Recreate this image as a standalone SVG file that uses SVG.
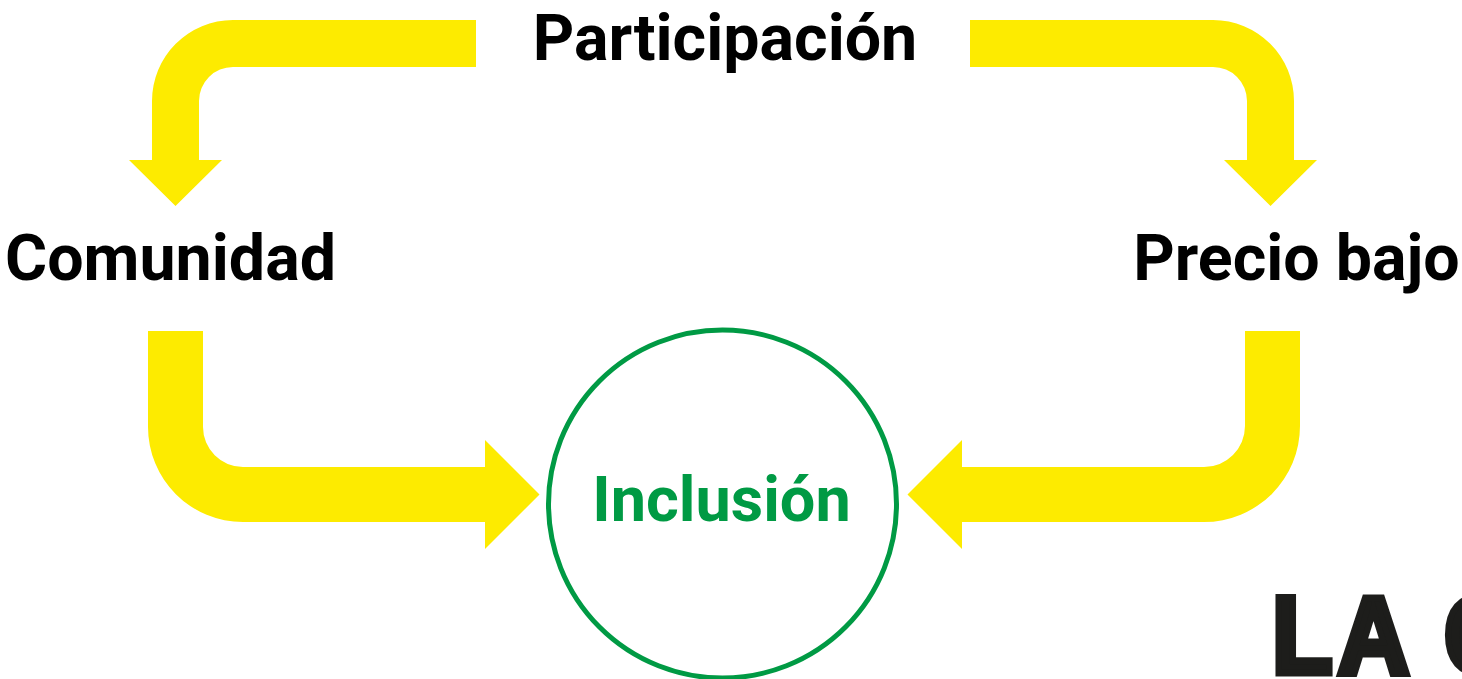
<svg xmlns="http://www.w3.org/2000/svg" width="1462" height="679" viewBox="0 0 1462 679">
<style>
.arrow{fill:#FDEB00}
.lbl{font-family:Roboto,"Liberation Sans",sans-serif;font-weight:700;font-size:64.5px;fill:#000;text-anchor:middle}
.center{fill:none;stroke:#009A44;stroke-width:5}
.ctext{font-family:Roboto,"Liberation Sans",sans-serif;font-weight:700;font-size:63px;fill:#009A44;text-anchor:middle}
.logo{font-family:"Liberation Sans",Arial,sans-serif;font-weight:700;font-size:110px;letter-spacing:6px;fill:#1D1D1B;stroke:#1D1D1B;stroke-width:7;stroke-linejoin:miter}
</style>
<rect width="1462" height="679" fill="#fff"/>
<g id="connectors">
<path class="arrow" d="M476,20 H233 A81,81 0 0 0 152,101 V160 H129 L175.5,206 L222,160 H199 V101 A34,34 0 0 1 233,67 H476 Z"/>
<path class="arrow" d="M970,20 H1213 A81,81 0 0 1 1294,101 V160 H1317 L1270.5,206 L1224,160 H1247 V101 A34,34 0 0 0 1213,67 H970 Z"/>
<path class="arrow" d="M148,331 V427 A95,95 0 0 0 243,522 H485 V549 L539.5,494.5 L485,440 V467 H243 A40,40 0 0 1 203,427 V331 Z"/>
<path class="arrow" d="M1300,331 V426 A96,96 0 0 1 1204,522 H962 V549 L907.5,494.5 L962,440 V467 H1204 A41,41 0 0 0 1245,426 V331 Z"/>
</g>
<g id="node-participacion"><text class="lbl" x="725" y="60">Participación</text></g>
<g id="node-comunidad"><text class="lbl" x="170.5" y="280">Comunidad</text></g>
<g id="node-precio"><text class="lbl" x="1296.5" y="280">Precio bajo</text></g>
<g id="node-inclusion">
<circle class="center" cx="722.5" cy="504" r="174"/>
<text class="ctext" x="721.5" y="521">Inclusión</text>
</g>
<g id="logo"><text class="logo" transform="translate(1272,672.5) scale(0.9,1)" x="0" y="0">LA C</text></g>
</svg>
